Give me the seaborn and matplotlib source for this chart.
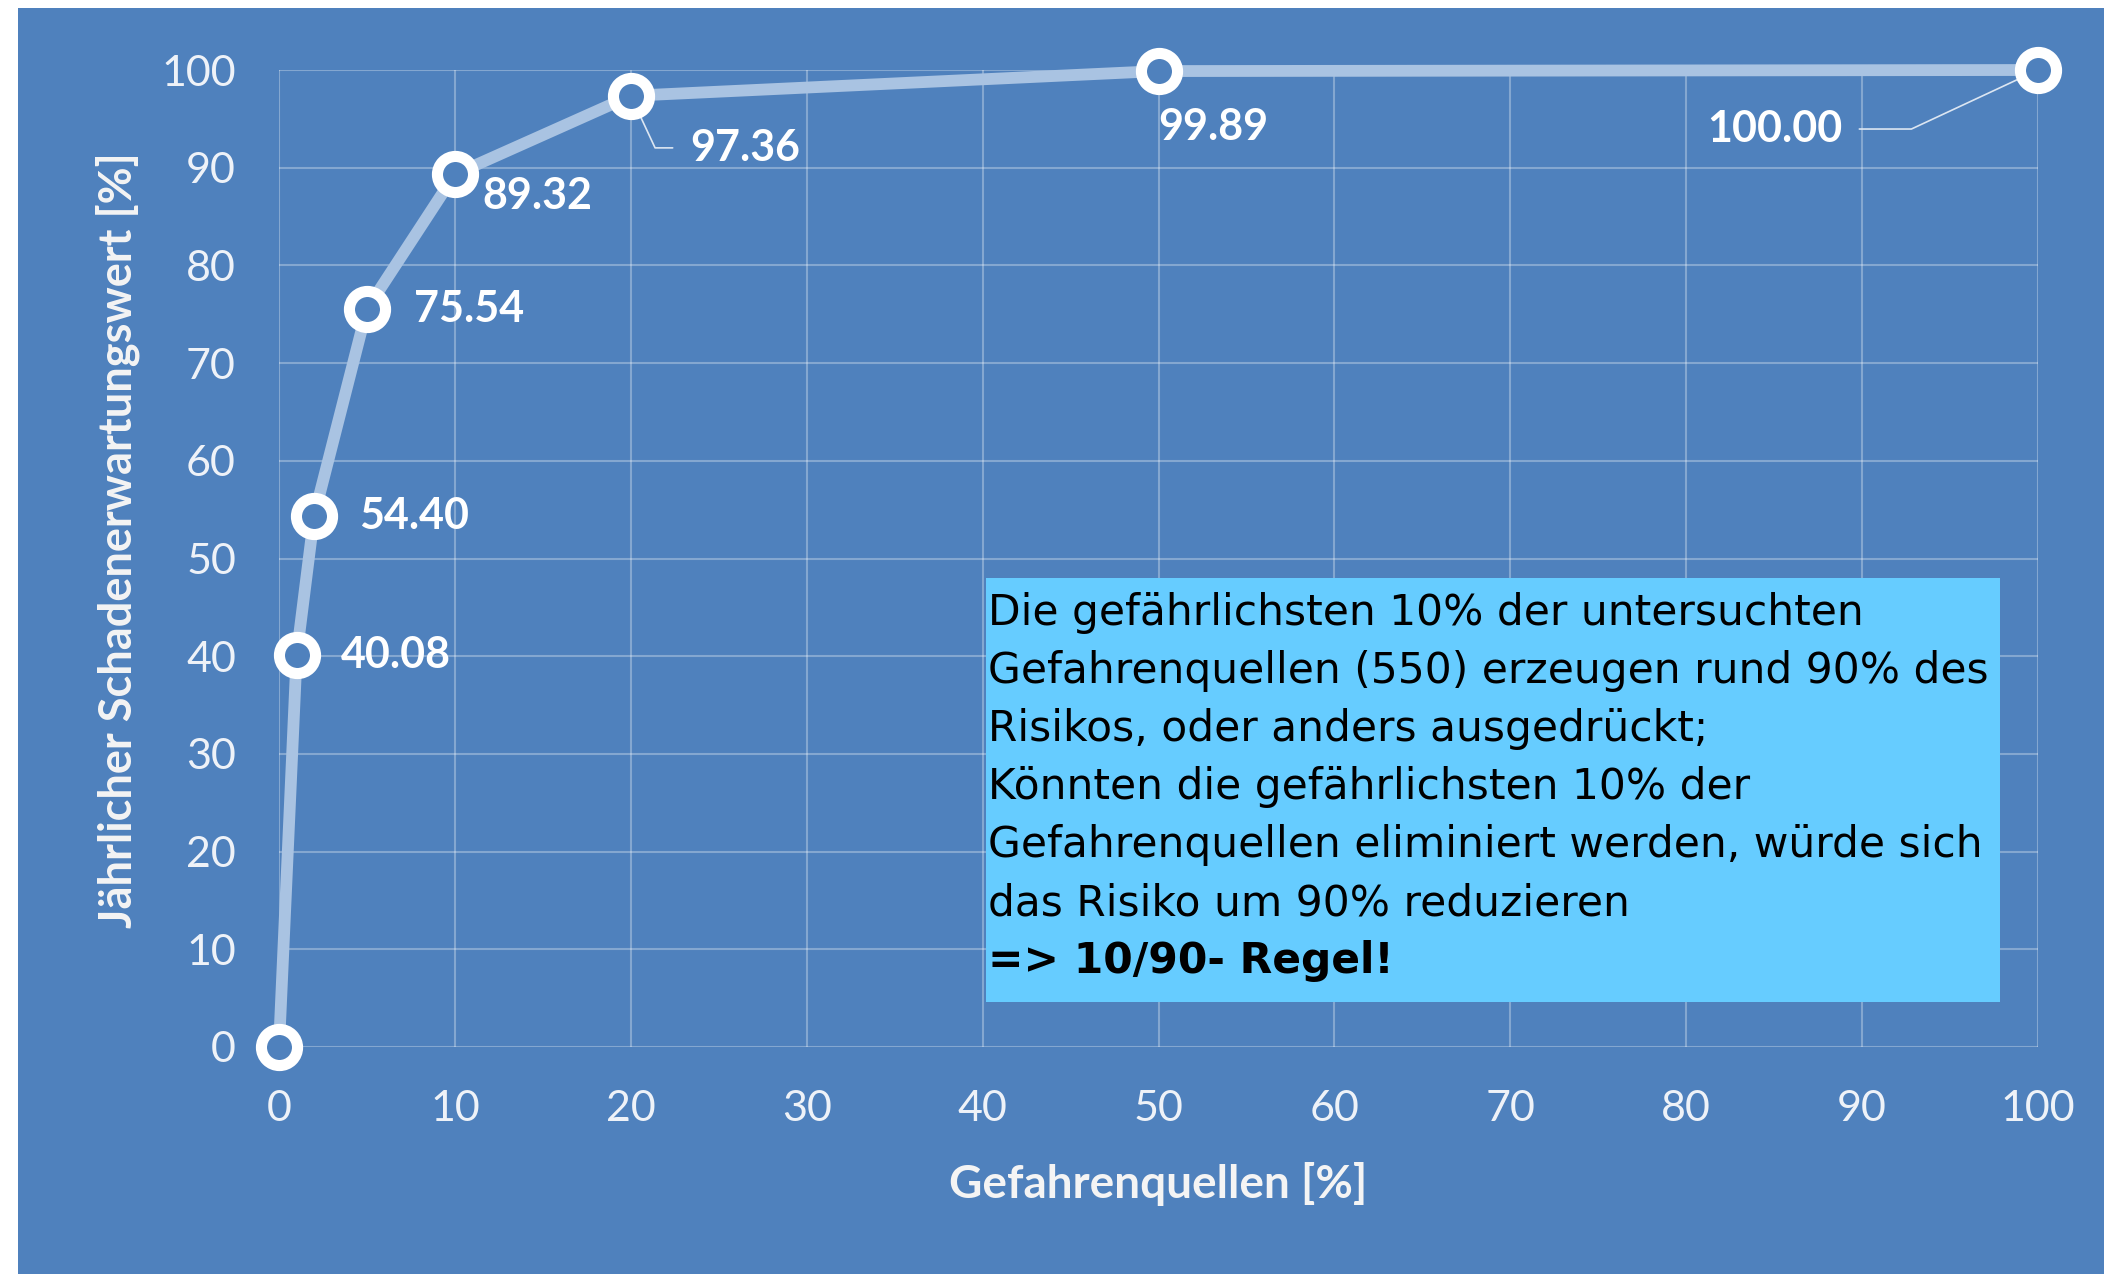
import matplotlib
matplotlib.use('Agg')
import matplotlib.pyplot as plt
from matplotlib.patches import Rectangle
import seaborn as sns
import pandas as pd

# data
gefahrenquellen = [0, 1, 2, 5, 10, 20, 50, 100]
schaden = [0, 40.08, 54.40, 75.54, 89.32, 97.36, 99.89, 100.00]
label_texts = ['40.08', '54.40', '75.54', '89.32', '97.36', '99.89', '100.00']
x_ticks = [0, 10, 20, 30, 40, 50, 60, 70, 80, 90, 100]
y_ticks = [0, 10, 20, 30, 40, 50, 60, 70, 80, 90, 100]
x_title = 'Gefahrenquellen [%]'
y_title = 'Jährlicher Schadenerwartungswert [%]'
box_lines = ['Die gefährlichsten 10% der untersuchten',
             'Gefahrenquellen (550) erzeugen rund 90% des',
             'Risikos, oder anders ausgedrückt;',
             'Könnten die gefährlichsten 10% der',
             'Gefahrenquellen eliminiert werden, würde sich',
             'das Risiko um 90% reduzieren']
box_last = '=> 10/90- Regel!'

BLUE = '#4F81BD'

sns.set_style('ticks')
plt.rcParams['font.family'] = ['Lato', 'DejaVu Sans']

df = pd.DataFrame({'x': gefahrenquellen, 'y': schaden})

fig = plt.figure(figsize=(21.04, 12.74), dpi=100)
fig.patch.set_facecolor('white')
fig.add_artist(Rectangle((18 / 2104, 0), 1, 1 - 8 / 1274, transform=fig.transFigure,
                         facecolor=BLUE, edgecolor='none', zorder=-10))

ax = fig.add_axes([279 / 2104, 1 - 1047 / 1274, (2038 - 279) / 2104, (1047 - 70) / 1274])
ax.set_facecolor(BLUE)
ax.patch.set_alpha(0)

sns.lineplot(data=df, x='x', y='y', ax=ax, color='#A9C3E2', linewidth=8.5,
             marker='o', markersize=26, markerfacecolor=BLUE,
             markeredgecolor='white', markeredgewidth=8, clip_on=False, zorder=5)

ax.set_xlim(0, 100)
ax.set_ylim(0, 100)
ax.set_xticks(x_ticks)
ax.set_yticks(y_ticks)
ax.grid(True, color='white', alpha=0.3, linewidth=1.5)
ax.set_axisbelow(True)
for s in ax.spines.values():
    s.set_visible(False)
ax.tick_params(length=0, colors='#EEF2F8', labelsize=31)
ax.tick_params(axis='y', pad=31)
ax.tick_params(axis='x', pad=31)

ax.set_xlabel(x_title, color='#F4F4F4', fontsize=33, fontweight='bold', va='center')
ax.xaxis.set_label_coords(0.5, -0.140)
ax.set_ylabel(y_title, color='#F4F4F4', fontsize=32.5, fontweight='bold', va='center')
ax.yaxis.set_label_coords(-0.0915, 0.519)

# data labels (offsets in points)
offsets = [(32, 0, 'left'), (32, 0, 'left'), (34, 0, 'left'), (20, -15.5, 'left'),
           (42.5, -37.5, 'left'), (0, -40, 'left'), (-141, -42.5, 'right')]
for (dx, dy, ha), xv, yv, txt in zip(offsets, gefahrenquellen[1:], schaden[1:], label_texts):
    arrow = None
    if txt == '97.36':
        arrow = dict(arrowstyle='-', color='#DCE6F2', lw=1.2,
                     connectionstyle='angle,angleA=0,angleB=-65', shrinkA=10, shrinkB=0)
    elif txt == '100.00':
        arrow = dict(arrowstyle='-', color='#DCE6F2', lw=1.2,
                     connectionstyle='angle,angleA=0,angleB=25', shrinkA=10, shrinkB=0)
    ax.annotate(txt, xy=(xv, yv), xytext=(dx, dy), textcoords='offset points',
                ha=ha, va='center', color='white', fontsize=31, fontweight='bold',
                arrowprops=arrow, annotation_clip=False, zorder=4)

# text box
fig.add_artist(Rectangle((986 / 2104, 1 - 1002 / 1274), (2000 - 986) / 2104, (1002 - 578) / 1274,
                         transform=fig.transFigure, facecolor='#66CCFF', edgecolor='none', zorder=10))
y0 = 625
for i, line in enumerate(box_lines + [box_last]):
    fig.text(988 / 2104, 1 - (y0 + i * 58) / 1274, line, fontsize=30.5,
             family=['DejaVu Sans'], fontweight='bold' if line == box_last else 'normal',
             color='black', ha='left', va='baseline', zorder=11)

fig.savefig('out.png', dpi=100)
